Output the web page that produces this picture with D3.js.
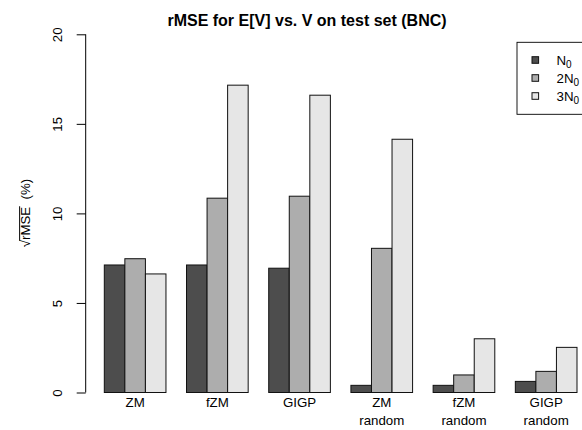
<!DOCTYPE html>
<html>
<head>
<meta charset="utf-8">
<script src="https://cdn.jsdelivr.net/npm/d3@7"></script>
<style>
  body { margin: 0; background: #fff; }
  text { font-family: "Liberation Sans", Arial, sans-serif; }
</style>
</head>
<body>
<svg width="582" height="430"></svg>
<script>
// data
var groups = ["ZM", "fZM", "GIGP", "ZM random", "fZM random", "GIGP random"];
var series = ["N0", "2N0", "3N0"];
var valuesN0  = [7.12, 7.12, 6.94, 0.40, 0.40, 0.62];
var values2N0 = [7.47, 10.85, 10.96, 8.05, 0.98, 1.18];
var values3N0 = [6.62, 17.16, 16.6, 14.14, 3.0, 2.52];
var yTicks = [0, 5, 10, 15, 20];
var colors = ["#4d4d4d", "#adadad", "#e6e6e6"];

var allValues = [valuesN0, values2N0, values3N0];
var fs = 13.3;

var svg = d3.select("svg");

// R style barplot units: each group = 3 bars + 1 space
var xScale = d3.scaleLinear()
  .domain([0.08, 24.92])
  .range([85.4, 595.9]);
var yScale = d3.scaleLinear()
  .domain([0, 20])
  .range([392.5, 34.3]);

var bars = [];
groups.forEach(function(g, gi) {
  series.forEach(function(s, si) {
    bars.push({group: gi, s: si, value: allValues[si][gi], left: 1 + 4 * gi + si});
  });
});

svg.append("g").selectAll("rect")
  .data(bars)
  .enter()
  .append("rect")
  .attr("x", function(d) { return xScale(d.left); })
  .attr("y", function(d) { return yScale(d.value); })
  .attr("width", function(d) { return xScale(d.left + 1) - xScale(d.left); })
  .attr("height", function(d) { return yScale(0) - yScale(d.value); })
  .attr("fill", function(d) { return colors[d.s]; })
  .attr("stroke", "#111")
  .attr("stroke-width", 1);

// y axis
var yAxis = d3.axisLeft(yScale).tickValues(yTicks).tickSize(9);
var ya = svg.append("g")
  .attr("transform", "translate(85.7,0)")
  .call(yAxis);
ya.select(".domain").attr("d", "M0," + yScale(0) + "V" + yScale(20)).attr("stroke", "#000");
ya.selectAll(".tick line").attr("stroke", "#000");
ya.selectAll(".tick text")
  .attr("font-size", fs)
  .attr("fill", "#000")
  .attr("font-family", "Liberation Sans, Arial, sans-serif")
  .attr("x", null).attr("dy", null)
  .attr("text-anchor", "middle")
  .attr("transform", "translate(-27.4,0) rotate(-90)")
  .attr("dominant-baseline", "middle");

// group labels
var lab = svg.append("g").selectAll("text")
  .data(groups)
  .enter()
  .append("text")
  .attr("text-anchor", "middle")
  .attr("font-size", fs)
  .attr("fill", "#000")
  .attr("transform", function(d, i) { return "translate(" + xScale(2.5 + 4 * i) + ",406.5)"; });
lab.each(function(d) {
  var parts = d.split(" ");
  var t = d3.select(this);
  parts.forEach(function(p, k) {
    t.append("tspan").attr("x", 0).attr("dy", k == 0 ? 0 : 18).text(p);
  });
});

// title
svg.append("text")
  .attr("x", 307)
  .attr("y", 25.5)
  .attr("text-anchor", "middle")
  .attr("font-size", 16)
  .attr("font-weight", "bold")
  .text("rMSE for E[V] vs. V on test set (BNC)");

// y label with square root bar
var yl = svg.append("text")
  .attr("transform", "translate(30,213) rotate(-90)")
  .attr("text-anchor", "middle")
  .attr("font-size", fs);
yl.append("tspan").text("\u221A");
yl.append("tspan").text("rMSE");
yl.append("tspan").text("\u00A0\u00A0(%)");
var node = yl.node();
var e1 = node.getExtentOfChar(4);
var sq = node.getExtentOfChar(0);
var barY = -fs * 0.78;
svg.append("line")
  .attr("transform", "translate(30,213) rotate(-90)")
  .attr("x1", sq.x + sq.width - 0.8).attr("x2", e1.x + e1.width + 0.5)
  .attr("y1", barY).attr("y2", barY)
  .attr("stroke", "#000").attr("stroke-width", 1);

// legend
var lg = svg.append("g");
lg.append("rect")
  .attr("x", 517).attr("y", 42.3).attr("width", 80).attr("height", 72)
  .attr("fill", "#fff").attr("stroke", "#000").attr("stroke-width", 0.9);
var legendLabels = [["N", "0"], ["2N", "0"], ["3N", "0"]];
legendLabels.forEach(function(l, i) {
  var cy = 60 + i * 18;
  lg.append("rect")
    .attr("x", 532).attr("y", cy - 3.3).attr("width", 6.6).attr("height", 6.6)
    .attr("fill", colors[i]).attr("stroke", "#111");
  var t = lg.append("text").attr("x", 556.5).attr("y", cy + 4.5).attr("font-size", fs);
  t.append("tspan").text(l[0]);
  t.append("tspan").attr("font-size", 10).attr("dy", 3).text(l[1]);
});
</script>
</body>
</html>
